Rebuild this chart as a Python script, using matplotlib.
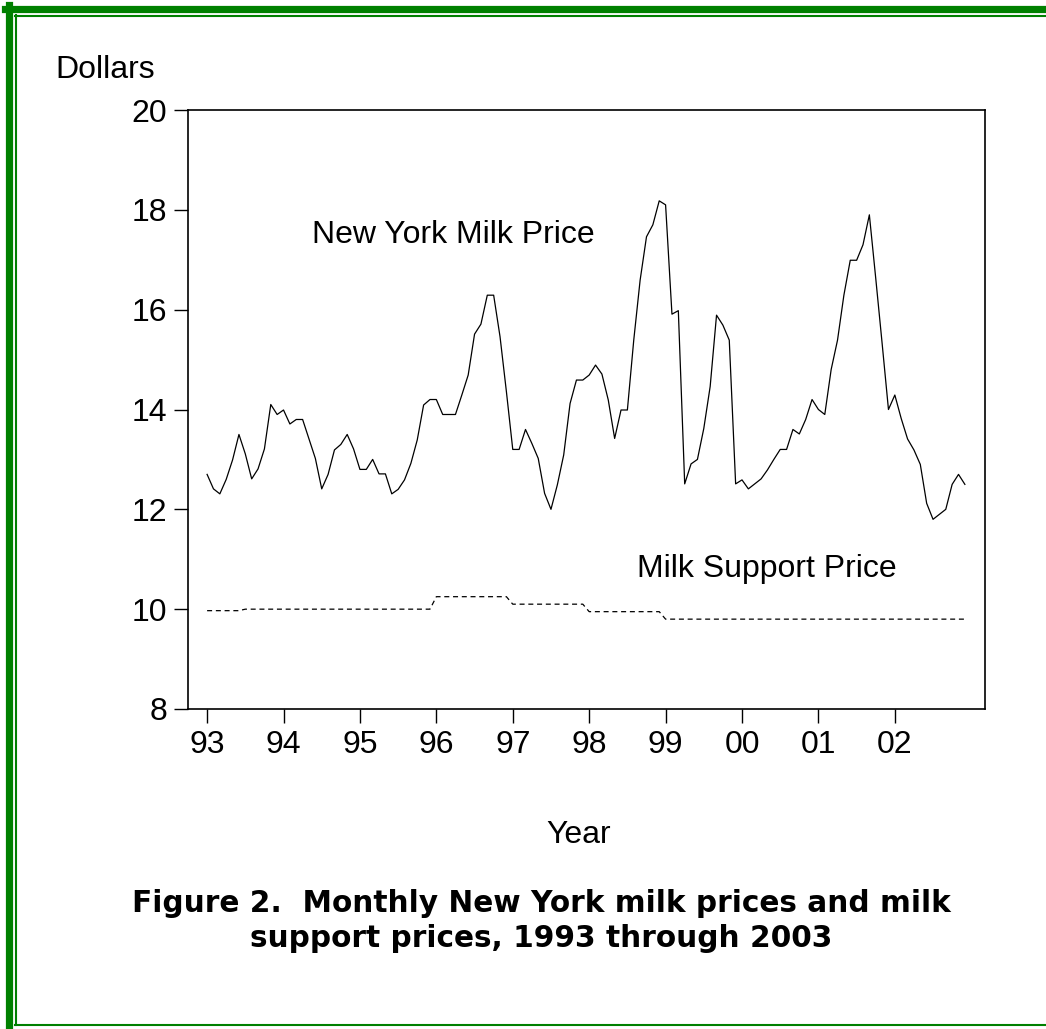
import matplotlib
matplotlib.use("Agg")
import matplotlib.pyplot as plt
from matplotlib.lines import Line2D
import numpy as np

# monthly New York milk price, Jan 1993 - Dec 2002 (dollars per cwt)
ny_price = [
    12.70, 12.41, 12.31, 12.60, 12.99, 13.50, 13.11, 12.61, 12.81, 13.21, 14.10, 13.90,  # 93
    13.99, 13.71, 13.80, 13.80, 13.41, 13.02, 12.41, 12.70, 13.19, 13.30, 13.50, 13.21,  # 94
    12.80, 12.80, 13.00, 12.71, 12.71, 12.31, 12.40, 12.59, 12.92, 13.39, 14.09, 14.20,  # 95
    14.20, 13.90, 13.90, 13.90, 14.29, 14.69, 15.51, 15.71, 16.29, 16.29, 15.46, 14.36,  # 96
    13.20, 13.20, 13.60, 13.32, 13.02, 12.32, 12.00, 12.49, 13.09, 14.12, 14.59, 14.59,  # 97
    14.69, 14.89, 14.71, 14.19, 13.42, 13.99, 13.99, 15.39, 16.59, 17.46, 17.70, 18.18,  # 98
    18.10, 15.91, 15.98, 12.51, 12.91, 13.00, 13.62, 14.46, 15.89, 15.69, 15.39, 12.51,  # 99
    12.59, 12.41, 12.51, 12.61, 12.79, 13.00, 13.20, 13.20, 13.60, 13.51, 13.80, 14.20,  # 00
    14.00, 13.90, 14.80, 15.39, 16.29, 16.99, 16.99, 17.30, 17.90, 16.63, 15.33, 14.00,  # 01
    14.29, 13.82, 13.41, 13.19, 12.90, 12.12, 11.80, 11.90, 12.00, 12.50, 12.70, 12.50,  # 02
]

# support price levels and the month index where each level starts
support_levels = [9.97, 10.00, 10.25, 10.10, 9.95, 9.80]
support_starts = [0, 6, 36, 48, 60, 72]

year_ticks = [1993, 1994, 1995, 1996, 1997, 1998, 1999, 2000, 2001, 2002]
year_labels = ["93", "94", "95", "96", "97", "98", "99", "00", "01", "02"]

n = len(ny_price)
months = 1993 + np.arange(n) / 12.0
support = np.zeros(n)
for i, lev in enumerate(support_levels):
    support[support_starts[i]:] = lev

plt.rcParams['font.family'] = ['Liberation Sans', 'DejaVu Sans']

fig = plt.figure(figsize=(10.46, 10.29), dpi=100)
ax = fig.add_axes([188/1046, 1 - 709/1029, (985-188)/1046, (709-110)/1029])

ax.plot(months, ny_price, color='black', lw=0.9)
ax.plot(months, support, color='black', lw=0.9, linestyle=(0, (4, 3)))

ax.set_xlim(1992.75, 2003.18)
ax.set_ylim(8, 20)
ax.set_xticks(year_ticks)
ax.set_xticklabels(year_labels)
ax.set_yticks([8, 10, 12, 14, 16, 18, 20])
ax.tick_params(direction='out', length=10, width=1, labelsize=23, pad=5)
for s in ax.spines.values():
    s.set_linewidth(1.2)

ax.text(1994.37, 17.5, "New York Milk Price", fontsize=23, va='center')
ax.text(1998.62, 10.8, "Milk Support Price", fontsize=23, va='center')

fig.text(105/1046, 1 - 70/1029, "Dollars", fontsize=23, ha='center', va='center')
fig.text(579/1046, 1 - 835/1029, "Year", fontsize=23, ha='center', va='center')
fig.text(541/1046, 1 - 921/1029,
         "Figure 2.  Monthly New York milk prices and milk\nsupport prices, 1993 through 2003",
         fontsize=21.3, fontweight='bold', family='DejaVu Sans',
         ha='center', va='center', linespacing=1.25)

# green double frame
def px_line(x0, y0, x1, y1, lw, c):
    fig.add_artist(Line2D([x0/1046, x1/1046], [1 - y0/1029, 1 - y1/1029],
                          color=c, lw=lw, transform=fig.transFigure))

dark = '#008000'
px_line(5, 8.5, 1046, 8.5, 5.2, dark)
px_line(8.5, 5, 8.5, 1029, 5.2, dark)
px_line(15, 15.5, 1046, 15.5, 1.5, dark)
px_line(15.5, 15, 15.5, 1025, 1.5, dark)
px_line(15, 1025, 1046, 1025, 1.5, dark)

fig.savefig("out.png", dpi=100)
